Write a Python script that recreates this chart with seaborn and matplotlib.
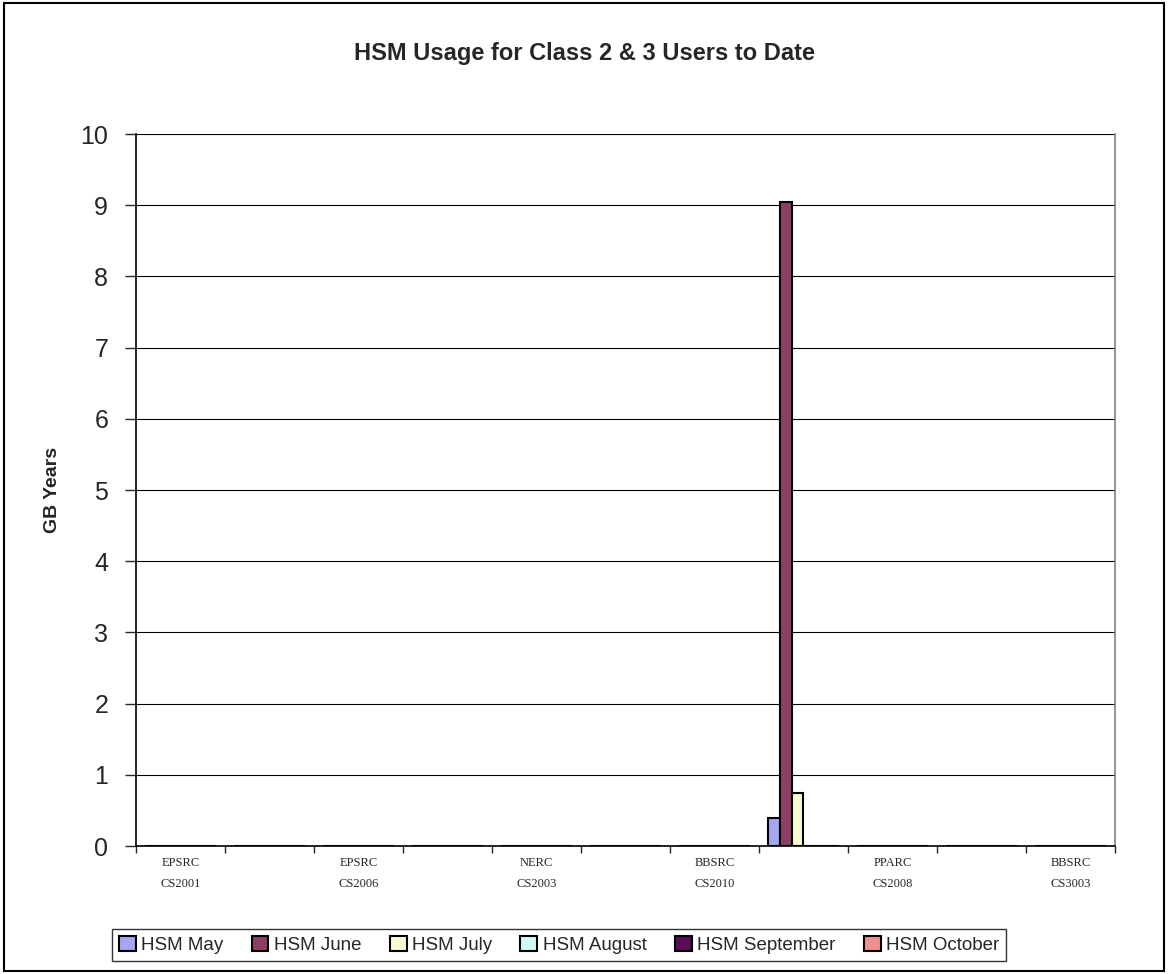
import numpy as np
import pandas as pd
import matplotlib
matplotlib.use("Agg")
import matplotlib.pyplot as plt
import seaborn as sns
from matplotlib.patches import Rectangle

# categories along the x axis (only every other one is labelled in the chart)
categories = ["EPSRC\nCS2001", "", "EPSRC\nCS2006", "", "NERC\nCS2003", "",
              "BBSRC\nCS2010", "", "PPARC\nCS2008", "", "BBSRC\nCS3003"]
months = ["HSM May", "HSM June", "HSM July", "HSM August", "HSM September", "HSM October"]

# values in GB years, one list per month (index = category position)
hsm_may = [0, 0, 0, 0, 0, 0, 0, 0.4, 0, 0, 0]
hsm_june = [0, 0, 0, 0, 0, 0, 0, 9.05, 0, 0, 0]
hsm_july = [0, 0, 0, 0, 0, 0, 0, 0.75, 0, 0, 0]
hsm_august = [0, 0, 0, 0, 0, 0, 0, 0, 0, 0, 0]
hsm_september = [0, 0, 0, 0, 0, 0, 0, 0, 0, 0, 0]
hsm_october = [0, 0, 0, 0, 0, 0, 0, 0, 0, 0, 0]

colors = ["#9999FF", "#993366", "#FFFFCC", "#CCFFFF", "#660066", "#FF8080"]

series = [hsm_may, hsm_june, hsm_july, hsm_august, hsm_september, hsm_october]
rows = []
for m, vals in zip(months, series):
    for i, v in enumerate(vals):
        rows.append({"pos": i, "month": m, "value": v})
df = pd.DataFrame(rows)

sns.set_style("white")
plt.rcParams['font.family'] = ['Liberation Sans', 'DejaVu Sans']

fig = plt.figure(figsize=(11.68, 9.74), dpi=100)
ax = fig.add_axes([0.1164, 0.1314, 0.8382, 0.731])

sns.barplot(data=df, x="pos", y="value", hue="month", hue_order=months,
            palette=colors, width=0.8, gap=0, edgecolor="black", linewidth=1.5,
            errorbar=None, ax=ax, legend=True)

ax.set_xlim(-0.5, len(categories) - 0.5)
ax.set_ylim(0, 10)
ax.set_yticks(range(0, 11))
ax.tick_params(axis="y", labelsize=18, length=8, width=1, direction="out", left=True, pad=12)
ax.yaxis.grid(True, color="black", linewidth=0.8)
ax.set_axisbelow(True)

# ticks at category boundaries, labels at the centres
ax.set_xticks(np.arange(-0.5, len(categories), 1.0))
ax.set_xticklabels([])
ax.tick_params(axis="x", length=5, width=1, direction="out", bottom=True)
ax.set_xticks(range(len(categories)), minor=True)
ax.set_xticklabels(categories, minor=True, fontsize=9, family="Liberation Serif",
                   linespacing=2.0)
ax.tick_params(axis="x", which="minor", length=0, pad=8)

ax.set_xlabel("")
ax.set_ylabel("GB Years", fontsize=14, fontweight="bold", labelpad=14)

for s in ["left", "bottom"]:
    ax.spines[s].set_color("black")
    ax.spines[s].set_linewidth(1.2)
ax.spines["right"].set_color("#808080")
ax.spines["right"].set_linewidth(1.2)
ax.spines["top"].set_visible(False)

fig.text(0.5, 0.945, "HSM Usage for Class 2 & 3 Users to Date", ha="center", va="center",
         fontsize=17, fontweight="bold")

ax.get_legend().remove()
handles, labels = ax.get_legend_handles_labels()
leg = fig.legend(handles[:6], labels[:6], loc="center left", bbox_to_anchor=(0.096, 0.0298),
                 ncol=6, frameon=True, fancybox=False, edgecolor="black", fontsize=13.5,
                 handlelength=0.9, handleheight=0.9, handletextpad=0.3, columnspacing=1.5,
                 borderpad=0.35, borderaxespad=0)
leg.get_frame().set_linewidth(1.0)

fig.patches.append(Rectangle((0.003, 0.003), 0.994, 0.994, transform=fig.transFigure,
                             fill=False, edgecolor="black", linewidth=1.5))

fig.savefig("out.png", dpi=100)
